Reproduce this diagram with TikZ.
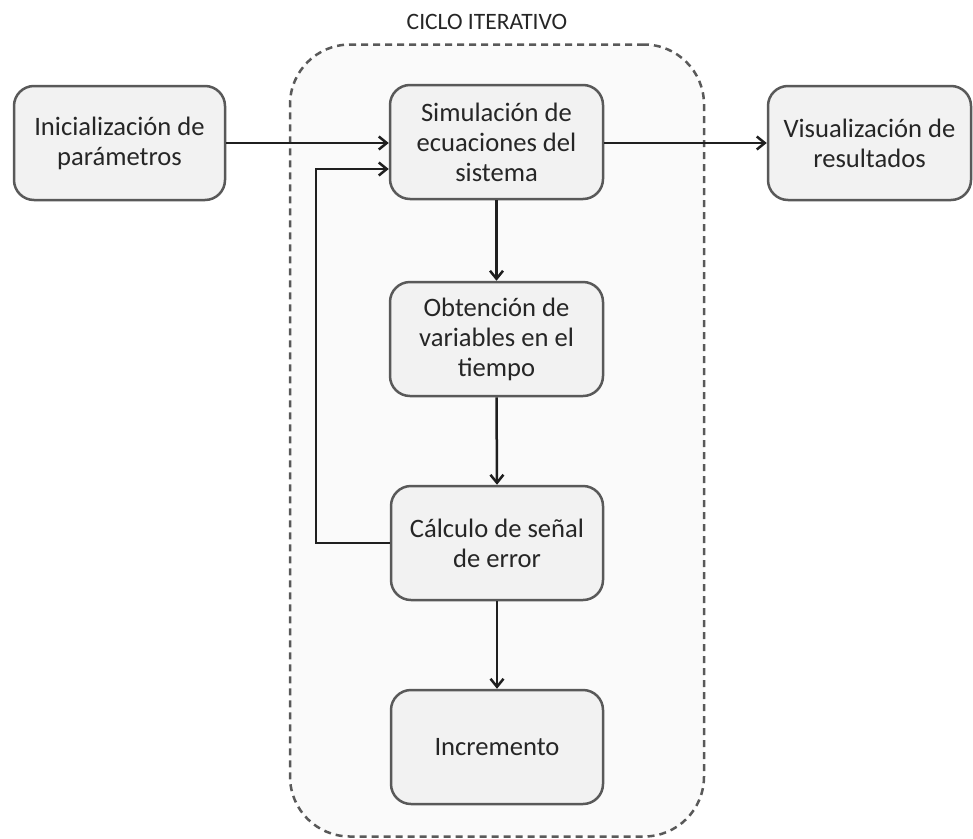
\documentclass[tikz,border=0pt]{standalone}
\usepackage{fontspec}
\setmainfont{Carlito}
\usetikzlibrary{arrows.meta,calc}
\definecolor{boxfill}{HTML}{F2F2F2}
\definecolor{boxline}{HTML}{595959}
\definecolor{cyclefill}{HTML}{FAFAFA}
\definecolor{txt}{HTML}{262626}
\definecolor{arr}{HTML}{1F1F1F}
\tikzset{
  stepbox/.style={draw=boxline, line width=2.5pt, fill=boxfill, rounded corners=20pt,
    minimum height=114pt, align=center, text=txt,
    font=\fontsize{26.6pt}{30pt}\selectfont, inner sep=0pt},
  flow/.style={draw=arr, line width=2.5pt, -{Straight Barb[length=8pt,width=13pt,line width=2.5pt]}},
}
\begin{document}
\begin{tikzpicture}[x=1pt,y=-1pt]
\useasboundingbox (0,0) rectangle (973,838);
\node[draw=boxline, line width=2.5pt, dash pattern=on 7pt off 5pt, fill=cyclefill,
  rounded corners=60pt, minimum width=414pt, minimum height=792pt, inner sep=0pt]
  (cycle) at (497,440.5) {};
\node[text=txt, font=\fontsize{23.5pt}{28pt}\selectfont, inner sep=0pt] (cyclelabel) at (487,21.5) {CICLO ITERATIVO};
\node[stepbox, minimum width=211pt] (init) at (119.5,143) {Inicialización de\\parámetros};
\node[stepbox, minimum width=213pt] (sim) at (496.5,142) {Simulación de\\ecuaciones del\\sistema};
\node[stepbox, minimum width=213pt] (obt) at (496.5,339) {Obtención de\\variables en el\\tiempo};
\node[stepbox, minimum width=212pt] (calc) at (497,543) {Cálculo de señal\\de error};
\node[stepbox, minimum width=212pt] (inc) at (497,747) {Incremento};
\node[stepbox, minimum width=203pt] (vis) at (869.5,143) {Visualización de\\resultados};
\coordinate (fbin) at ($(sim.west)+(0,27)$);
\coordinate (fbcorner) at (316,543);
\draw[flow] (init.east) -- (init.east -| sim.west);
\draw[flow] (calc.west) -- (fbcorner) |- (fbin);
\draw[flow] (sim.south) -- (obt.north);
\draw[flow] (obt.south) -- (calc.north);
\draw[flow] (calc.south) -- (inc.north);
\draw[flow] (sim.east |- init.east) -- (vis.west);
\end{tikzpicture}
\end{document}
